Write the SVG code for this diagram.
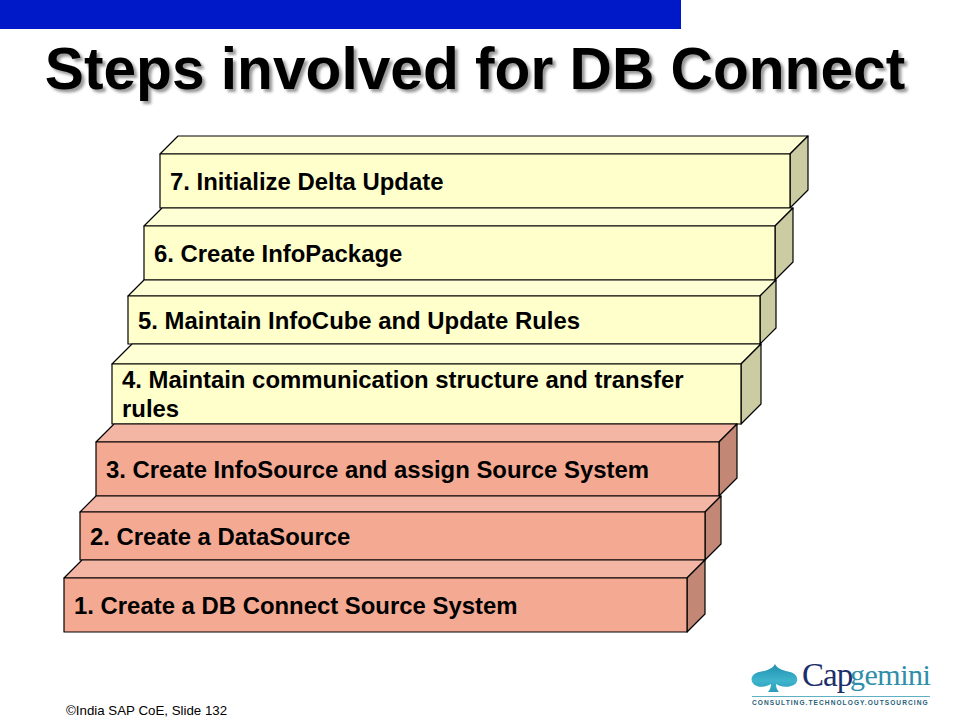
<svg xmlns="http://www.w3.org/2000/svg" width="960" height="720" viewBox="0 0 960 720">
<style>
text{font-family:"Liberation Sans",Arial,sans-serif}
.l{font-size:23.9px;font-weight:700;fill:#000}
.s{stroke:#000;stroke-width:1.2;stroke-linejoin:round}
.yf{fill:#ffffcc}.yt{fill:#ffffd6}.ys{fill:#cccca3}
.rf{fill:#f4a992}.rt{fill:#f3b6a5}.rs{fill:#c38875}
</style>
<defs><linearGradient id="sp" x1="0" y1="0" x2="0" y2="1"><stop offset="0" stop-color="#1f8fb0"/><stop offset="0.6" stop-color="#3fb4cc"/><stop offset="1" stop-color="#2a9dbb"/></linearGradient></defs>
<rect width="960" height="720" fill="#fff"/>
<rect id="bar" x="0" y="0" width="681" height="29" fill="#0019c8"/>
<text id="title" x="475" y="89" text-anchor="middle" font-size="58.67" font-weight="700" fill="#000" style="text-shadow:3px 3px 3px #999">Steps involved for DB Connect</text>
<g id="step7">
<path class="s yt" d="M160 154L178 136H808L790 154Z"/><path class="s ys" d="M790 154L808 136V190L790 208Z"/><rect class="s yf" x="160" y="154" width="630" height="54"/>
<text class="l" x="170" y="190">7. Initialize Delta Update</text></g>
<g id="step6">
<path class="s yt" d="M144 226L162 208H793L775 226Z"/><path class="s ys" d="M775 226L793 208V262L775 280Z"/><rect class="s yf" x="144" y="226" width="631" height="54"/>
<text class="l" x="154" y="262">6. Create InfoPackage</text></g>
<g id="step5">
<path class="s yt" d="M128 296L144 280H776L760 296Z"/><path class="s ys" d="M760 296L776 280V328L760 344Z"/><rect class="s yf" x="128" y="296" width="632" height="48"/>
<text class="l" x="138" y="329">5. Maintain InfoCube and Update Rules</text></g>
<g id="step4">
<path class="s yt" d="M112 364L132 344H761L741 364Z"/><path class="s ys" d="M741 364L761 344V404L741 424Z"/><rect class="s yf" x="112" y="364" width="629" height="60"/>
<text class="l" x="122" y="388">4. Maintain communication structure and transfer</text>
<text class="l" x="122" y="417">rules</text></g>
<g id="step3">
<path class="s rt" d="M96 442L114 424H737L719 442Z"/><path class="s rs" d="M719 442L737 424V478L719 496Z"/><rect class="s rf" x="96" y="442" width="623" height="54"/>
<text class="l" x="106" y="478">3. Create InfoSource and assign Source System</text></g>
<g id="step2">
<path class="s rt" d="M80 512L96 496H721L705 512Z"/><path class="s rs" d="M705 512L721 496V544L705 560Z"/><rect class="s rf" x="80" y="512" width="625" height="48"/>
<text class="l" x="90" y="545">2. Create a DataSource</text></g>
<g id="step1">
<path class="s rt" d="M64 578L82 560H705L687 578Z"/><path class="s rs" d="M687 578L705 560V614L687 632Z"/><rect class="s rf" x="64" y="578" width="623" height="54"/>
<text class="l" x="74" y="614">1. Create a DB Connect Source System</text></g>
<text id="footer" x="66" y="715" font-size="13.3" fill="#000">©India SAP CoE, Slide 132</text>
<g id="logo">
<path d="M775 664C777 669 785 671 790 672C799 674 800 684 791 686C785 688 779 686 776 684C776 687 777 690 779 692L768 692C770 690 771 687 771 684C768 686 761 688 757 686C749 683 750 674 759 672C765 671 773 669 775 664Z" fill="url(#sp)"/>
<text x="802" y="686" font-size="33" fill="#1c2f6b" style="font-family:'Liberation Serif',serif;letter-spacing:-1px">Cap</text>
<text x="850" y="685" font-size="30" fill="#2f8ea8" style="font-family:'Liberation Serif',serif;letter-spacing:-.5px">gemini</text>
<rect x="752" y="696" width="178" height="1" fill="#5fb0c4"/>
<text x="752" y="705" font-size="6.6" font-weight="700" fill="#2a5f78" letter-spacing="1.05">CONSULTING.TECHNOLOGY.OUTSOURCING</text>
</g>
</svg>
